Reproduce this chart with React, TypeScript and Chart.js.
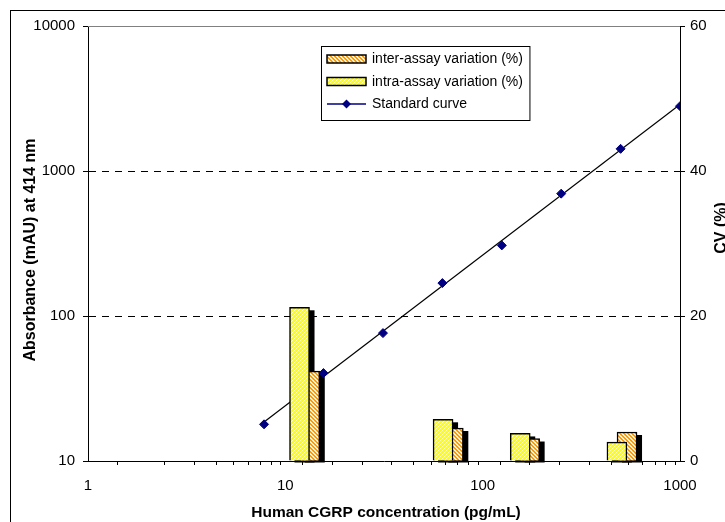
import React, { useEffect, useRef } from 'react';
import { Chart, registerables } from 'chart.js';

Chart.register(...registerables);

const stdConc = [7.8, 15.6, 31.25, 62.5, 125, 250, 500, 1000];
const stdAbs = [17.9, 40.4, 76.2, 168.7, 306.9, 698, 1422, 2800];
const fitConc = [7.8, 1000];
const fitAbs = [18.6, 2876];
const intraConc = [11.8, 63, 155, 479];
const intraCV = [21.2, 5.75, 3.8, 2.6];
const interConc = [13.3, 71, 173, 539];
const interCV = [12.4, 4.55, 3.1, 4.0];
const xLabelTicks = [1, 10, 100, 1000];
const absTicks = [10, 100, 1000, 10000];
const absGrid = [100, 1000];
const cvTicks = [0, 20, 40, 60];
const legendNames = ['inter-assay variation (%)', 'intra-assay variation (%)', 'Standard curve'];
const xTitle = 'Human CGRP concentration (pg/mL)';
const yTitle = 'Absorbance (mAU) at 414 nm';
const y1Title = 'CV (%)';

const FONT = "'Liberation Sans', Arial, sans-serif";

export default function App() {
  const ref = useRef<HTMLCanvasElement>(null);

  useEffect(() => {
    const canvas = ref.current!;
    const ctx = canvas.getContext('2d')!;

    const tile = (base: string, stripe: string, fn: (x: number, y: number) => boolean) => {
      const t = document.createElement('canvas');
      t.width = 4;
      t.height = 4;
      const g = t.getContext('2d')!;
      g.fillStyle = base;
      g.fillRect(0, 0, 4, 4);
      g.fillStyle = stripe;
      for (let y = 0; y < 4; y++) for (let x = 0; x < 4; x++) if (fn(x, y)) g.fillRect(x, y, 1, 1);
      return ctx.createPattern(t, 'repeat')!;
    };
    const yellowPat = tile('#FFFF00', '#FFFFD8', (x, y) => (x + y) % 4 === 0);
    const orangePat = tile('#FF9900', '#FFF2DD', (x, y) => (((x - y) % 4) + 4) % 4 < 2);

    const decor = {
      id: 'decor',
      beforeDatasetDraw(chart: any, args: any) {
        if (args.index !== 1) return;
        const c = chart.ctx;
        c.save();
        c.fillStyle = '#000';
        [1, 2].forEach((di) => {
          chart.getDatasetMeta(di).data.forEach((el: any) => {
            const w = el.width;
            c.fillRect(el.x - w / 2 + 5, el.y + 3, w, el.base - el.y - 1);
          });
        });
        c.restore();
      },
      afterDraw(chart: any) {
        const c = chart.ctx;
        const a = chart.chartArea;
        c.save();
        c.strokeStyle = '#808080';
        c.lineWidth = 1;
        c.beginPath();
        c.moveTo(a.left, a.top + 0.5);
        c.lineTo(a.right, a.top + 0.5);
        c.stroke();
        c.strokeStyle = '#000';
        c.strokeRect(10.5, 10.5, 1000, 1000);

        c.fillStyle = '#000';
        c.textAlign = 'center';
        c.textBaseline = 'alphabetic';
        c.font = `bold 15.5px ${FONT}`;
        c.fillText(xTitle, 386, 516.5);
        c.font = `bold 16px ${FONT}`;
        c.save();
        c.translate(34.5, 250);
        c.rotate(-Math.PI / 2);
        c.fillText(yTitle, 0, 0);
        c.restore();
        c.save();
        c.translate(726, 228);
        c.rotate(-Math.PI / 2);
        c.fillText(y1Title, 0, 0);
        c.restore();

        // legend
        c.font = `14px ${FONT}`;
        const textX = 372;
        const maxW = Math.max(...legendNames.map((n) => c.measureText(n).width));
        const lx = 321.5, ly = 46.5, lh = 74;
        const lw = textX + maxW + 7 - lx;
        c.fillStyle = '#fff';
        c.fillRect(lx, ly, lw, lh);
        c.strokeStyle = '#000';
        c.lineWidth = 1;
        c.strokeRect(lx, ly, lw, lh);
        const rows = [59, 81.5, 104];
        [orangePat, yellowPat].forEach((p, i) => {
          c.fillStyle = p;
          c.fillRect(327, rows[i] - 4, 39, 8);
          c.strokeStyle = '#000';
          c.lineWidth = 1.5;
          c.strokeRect(327, rows[i] - 4, 39, 8);
        });
        c.strokeStyle = '#000080';
        c.lineWidth = 1.5;
        c.beginPath();
        c.moveTo(327, rows[2]);
        c.lineTo(366, rows[2]);
        c.stroke();
        c.fillStyle = '#000080';
        c.beginPath();
        c.moveTo(346.5, rows[2] - 4.5);
        c.lineTo(351, rows[2]);
        c.lineTo(346.5, rows[2] + 4.5);
        c.lineTo(342, rows[2]);
        c.closePath();
        c.fill();
        c.fillStyle = '#000';
        c.textAlign = 'left';
        c.textBaseline = 'middle';
        legendNames.forEach((n, i) => c.fillText(n, textX, rows[i] + 0.5));
        c.restore();
      },
    };

    const near = (v: number, arr: number[]) => arr.some((t) => Math.abs(v - t) < 1e-6 * t);
    const tickFont = { family: FONT, size: 15 };

    const chart = new Chart(canvas, {
      type: 'line',
      data: {
        datasets: [
          {
            type: 'line',
            label: 'fit',
            data: fitConc.map((x, i) => ({ x, y: fitAbs[i] })),
            borderColor: '#000',
            borderWidth: 1.2,
            pointRadius: 0,
            xAxisID: 'x',
            yAxisID: 'y',
            order: 4,
          },
          {
            type: 'bar',
            label: legendNames[0],
            data: interConc.map((x, i) => ({ x, y: interCV[i] })),
            backgroundColor: orangePat,
            borderColor: '#000',
            borderWidth: 1.5,
            barThickness: 20,
            grouped: false,
            xAxisID: 'x',
            yAxisID: 'y1',
            order: 3,
          },
          {
            type: 'bar',
            label: legendNames[1],
            data: intraConc.map((x, i) => ({ x, y: intraCV[i] })),
            backgroundColor: yellowPat,
            borderColor: '#000',
            borderWidth: 1.5,
            barThickness: 20,
            grouped: false,
            xAxisID: 'x',
            yAxisID: 'y1',
            order: 2,
          },
          {
            type: 'line',
            label: legendNames[2],
            data: stdConc.map((x, i) => ({ x, y: stdAbs[i] })),
            showLine: false,
            pointStyle: 'rectRot',
            pointRadius: 4.5,
            pointBackgroundColor: '#000080',
            pointBorderColor: '#000080',
            pointBorderWidth: 1,
            xAxisID: 'x',
            yAxisID: 'y',
            order: 1,
          },
        ],
      } as any,
      options: {
        responsive: false,
        animation: false,
        events: [],
        layout: { padding: { top: 26, left: 0, right: 0, bottom: 0 } },
        plugins: { legend: { display: false }, tooltip: { enabled: false } },
        scales: {
          x: {
            type: 'logarithmic',
            min: 1,
            max: 1000,
            position: 'bottom',
            offset: false,
            afterFit: (s: any) => { s.height = 61; },
            grid: { drawOnChartArea: false, drawTicks: true, tickLength: 4, tickColor: '#000', color: '#000' },
            border: { display: true, color: '#000', width: 1 },
            ticks: {
              autoSkip: false,
              maxRotation: 0,
              minRotation: 0,
              color: '#000',
              font: tickFont,
              padding: 12,
              callback: (v: any) => (near(Number(v), xLabelTicks) ? String(Math.round(Number(v))) : ''),
            },
          },
          y: {
            type: 'logarithmic',
            min: 10,
            max: 10000,
            position: 'left',
            afterFit: (s: any) => { s.width = 88; },
            afterBuildTicks: (s: any) => { s.ticks = absTicks.map((v) => ({ value: v })); },
            grid: {
              color: (c: any) => (c.tick && near(c.tick.value, absGrid) ? '#000' : 'rgba(0,0,0,0)'),
              tickColor: '#000',
              tickLength: 5,
              drawOnChartArea: true,
            },
            border: { display: true, color: '#000', width: 1, dash: [7, 6] },
            ticks: { color: '#000', font: tickFont, padding: 8, callback: (v: any) => String(v) },
          },
          y1: {
            type: 'linear',
            min: 0,
            max: 60,
            position: 'right',
            afterFit: (s: any) => { s.width = 45; },
            afterBuildTicks: (s: any) => { s.ticks = cvTicks.map((v) => ({ value: v })); },
            grid: { drawOnChartArea: false, tickLength: 5, tickColor: '#000', color: '#000' },
            border: { display: true, color: '#000', width: 1 },
            ticks: { color: '#000', font: tickFont, padding: 5 },
          },
        },
      } as any,
      plugins: [decor],
    });

    return () => chart.destroy();
  }, []);

  return (
    <div style={{ position: 'fixed', left: 0, top: 0, width: 725, height: 522, background: '#fff' }}>
      <canvas ref={ref} width={725} height={522} style={{ display: 'block' }} />
    </div>
  );
}
